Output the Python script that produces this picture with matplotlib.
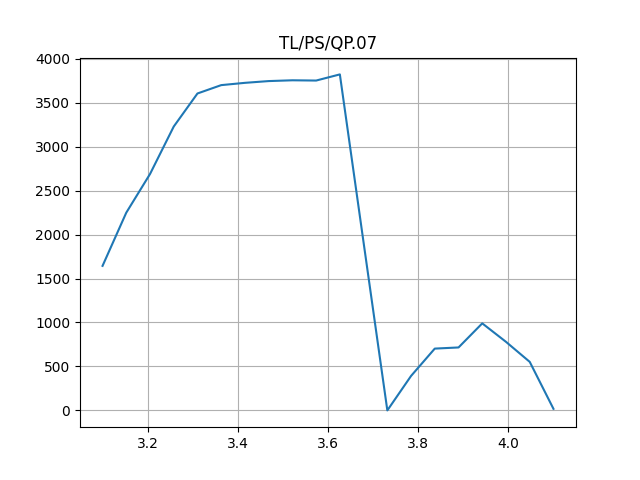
import matplotlib
matplotlib.use("Agg")
import matplotlib.pyplot as plt

# sample positions and measured values
x_vals = [3.1, 3.1526, 3.2053, 3.2579, 3.3105, 3.3632, 3.4158, 3.4684, 3.5211, 3.5737,
          3.6263, 3.6789, 3.7316, 3.7842, 3.8368, 3.8895, 3.9421, 3.9947, 4.0474, 4.1]
y_vals = [1644, 2249, 2689, 3229, 3605, 3700, 3726, 3746, 3755, 3752,
          3822, 1910, 0, 392, 703, 716, 990, 780, 552, 18]

fig = plt.figure(figsize=(6.4, 4.8), dpi=100)
plt.plot(x_vals, y_vals)
plt.title('TL/PS/QP.07')
plt.grid(True)
plt.savefig('out.png')
